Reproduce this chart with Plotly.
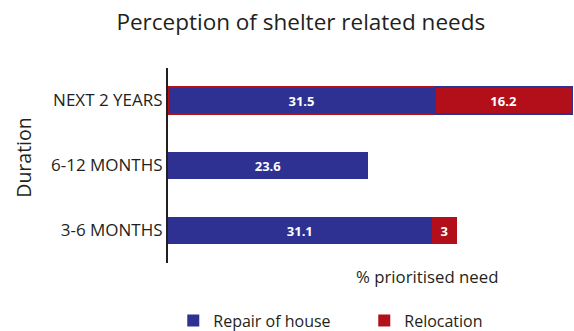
import plotly.graph_objects as go

# Durations, bottom to top as drawn
durations = ["3-6 MONTHS", "6-12 MONTHS", "NEXT 2 YEARS"]
repair_of_house = [31.1, 23.6, 31.5]
relocation = [3, None, 16.2]

BLUE = "#2e3192"
RED = "#b30f1a"
INK = "#231f20"
FONT = "Open Sans"

def labels(vals):
    return ["" if v is None else f"{v:g}" for v in vals]

bar_text = dict(color="white", size=13, family=FONT, weight="bold")

fig = go.Figure()
fig.add_trace(go.Bar(
    name="Repair of house",
    y=durations, x=repair_of_house, orientation="h",
    marker=dict(color=BLUE,
                line=dict(color=[BLUE, BLUE, RED], width=[0, 0, 1.5])),
    text=labels(repair_of_house), textposition="inside",
    insidetextanchor="middle", textfont=bar_text,
    width=0.42,
))
fig.add_trace(go.Bar(
    name="Relocation",
    y=durations, x=relocation, orientation="h",
    marker=dict(color=RED,
                line=dict(color=[RED, RED, BLUE], width=[0, 0, 1.5])),
    text=labels(relocation), textposition="inside",
    insidetextanchor="middle", textfont=bar_text,
    width=0.42,
))

fig.update_layout(
    width=574, height=331,
    barmode="stack",
    plot_bgcolor="white", paper_bgcolor="white",
    margin=dict(l=168, r=0, t=68, b=68, autoexpand=False),
    font=dict(family=FONT, color=INK),
    title=dict(text="Perception of shelter related needs",
               x=0.524, xanchor="center", y=0.934, yanchor="middle",
               font=dict(size=22.5, color=INK)),
    xaxis=dict(range=[0, 47.9], showticklabels=False, showgrid=False,
               zeroline=False, showline=False, fixedrange=True),
    yaxis=dict(range=[-0.5, 2.5], showgrid=False, zeroline=False,
               showline=True, linecolor=INK, linewidth=2,
               ticks="", ticklabelstandoff=0, automargin=False,
               tickfont=dict(size=17, color=INK)),
    showlegend=True,
    legend=dict(orientation="h", x=0.013, xanchor="left", y=-0.295,
                yanchor="middle", font=dict(size=16, color=INK),
                traceorder="normal", itemwidth=30,
                entrywidth=146, entrywidthmode="pixels"),
    uniformtext=dict(minsize=8, mode="show"),
)

fig.add_annotation(text="Duration", textangle=-90, xref="paper", yref="paper",
                   x=-0.358, y=0.538, xanchor="center", yanchor="middle",
                   showarrow=False, font=dict(size=19.5, color=INK))
fig.add_annotation(text="% prioritised need", xref="paper", yref="paper",
                   x=0.638, y=-0.067, xanchor="center", yanchor="middle",
                   showarrow=False, font=dict(size=16.8, color=INK))

fig.write_html("out.html")
